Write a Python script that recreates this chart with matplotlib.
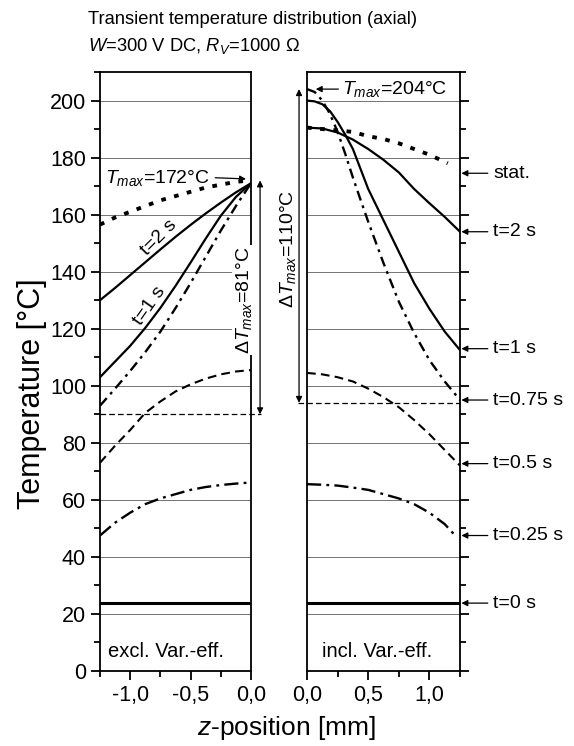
import numpy as np
import matplotlib
matplotlib.use('Agg')
import matplotlib.pyplot as plt
from matplotlib.ticker import MultipleLocator, FixedLocator, FixedFormatter

plt.rcParams['font.family'] = ['Liberation Sans', 'DejaVu Sans']
plt.rcParams['mathtext.fontset'] = 'custom'
plt.rcParams['mathtext.rm'] = 'Liberation Sans'
plt.rcParams['mathtext.it'] = 'Liberation Sans:italic'

# left panel (excl. Var.-eff.), z in mm
z_left = [-1.25, -1.125, -1.0, -0.875, -0.75, -0.625, -0.5, -0.375, -0.25, -0.125, 0.0]
left_stat = [156.5, 159, 161, 163, 165, 166.5, 168, 169.5, 170.5, 171.5, 172]
left_t2 = [130, 134.3, 138.8, 143.3, 147.8, 152.2, 156.4, 160.4, 164.2, 167.8, 171]
left_t1 = [103, 108.5, 114, 120.3, 127.3, 135, 143.2, 151.6, 159.6, 166.2, 171]
left_t075 = [93, 99, 105.2, 111.8, 119, 127.2, 136, 145.2, 154.4, 163, 171]
left_t05 = [73, 79, 84.5, 90.5, 94.5, 98, 100.5, 102.5, 104, 105, 105.5]
z_left_t025 = [-1.25, -1.125, -1.0, -0.875, -0.75, -0.625, -0.5, -0.375, -0.25, -0.125, -0.03]
left_t025 = [47.5, 52, 55.5, 58.5, 60.5, 62, 63.5, 64.5, 65.2, 65.7, 66]
left_t0 = [24] * len(z_left)

# right panel (incl. Var.-eff.)
z_right = [0.0, 0.125, 0.25, 0.375, 0.5, 0.625, 0.75, 0.875, 1.0, 1.125, 1.25]
z_right_fine = [0.0, 0.0625, 0.125, 0.1875, 0.25, 0.3125, 0.375, 0.4375, 0.5, 0.625, 0.75,
                0.875, 1.0, 1.125, 1.25]
z_right_stat = [0.0, 0.125, 0.25, 0.375, 0.5, 0.625, 0.75, 0.875, 1.0, 1.15]
right_stat = [190.5, 190, 189.5, 189, 187.5, 186.5, 185, 183, 181, 178]
right_t2 = [190.5, 190.2, 188.8, 186.3, 183, 179.2, 174.8, 169, 164, 159.2, 154]
right_t1 = [200, 199.7, 198.7, 196.3, 192.5, 188, 183, 176, 169, 158, 147, 136, 127, 119, 112.5]
right_t075 = [204, 203, 200, 195.3, 189, 181.3, 173, 165.2, 157.5, 143, 129.5, 118.5, 109, 101.5, 95]
right_t05 = [104.5, 104, 103, 101.5, 99, 96, 92.5, 88, 83, 77.5, 72]
z_right_t025 = [0.0, 0.125, 0.25, 0.375, 0.5, 0.625, 0.75, 0.875, 1.0, 1.125, 1.2]
right_t025 = [65.5, 65.3, 65, 64.3, 63.5, 62, 60.5, 58.5, 55.5, 51.5, 48]
right_t0 = [24] * len(z_right)

right_labels = ['stat.', 't=2 s', 't=1 s', 't=0.75 s', 't=0.5 s', 't=0.25 s', 't=0 s']
right_label_T = [174.5, 154, 113, 95, 72.7, 47.5, 23.8]

left_ticks = [-1.0, -0.5, 0.0]
left_ticklabels = ['-1,0', '-0,5', '0,0']
right_ticks = [0.0, 0.5, 1.0]
right_ticklabels = ['0,0', '0,5', '1,0']

fig = plt.figure(figsize=(5.74, 7.46), dpi=100)
ax1 = fig.add_axes([100 / 574, 75 / 746, 151 / 574, 599 / 746])
ax2 = fig.add_axes([307 / 574, 75 / 746, 153 / 574, 599 / 746])

st_stat = dict(color='k', lw=2.8, dashes=(1.2, 2.2), dash_capstyle='butt')
st_solid = dict(color='k', lw=1.6)
st_dd = dict(color='k', lw=1.7, dashes=(4.3, 2.2, 1.2, 2.2))
st_dd2 = dict(color='k', lw=1.7, dashes=(6.0, 2.2, 1.2, 2.2))
st_dash = dict(color='k', lw=1.5, dashes=(4.2, 2.5))
st_t0 = dict(color='k', lw=2.2)
st_ref = dict(color='k', lw=0.9, dashes=(4.5, 2.5))

for ax in (ax1, ax2):
    ax.set_ylim(0, 210)
    ax.yaxis.set_major_locator(MultipleLocator(20))
    ax.yaxis.set_minor_locator(MultipleLocator(10))
    ax.grid(axis='y', which='major', color='0.45', lw=0.7)
    ax.set_axisbelow(True)
    for s in ax.spines.values():
        s.set_linewidth(1.3)
    ax.tick_params(which='major', length=6.5, width=1.3, labelsize=15.5, direction='out')
    ax.tick_params(which='minor', length=4.5, width=1.3, direction='out')

ax1.set_xlim(-1.25, 0)
ax1.xaxis.set_major_locator(FixedLocator(left_ticks))
ax1.xaxis.set_major_formatter(FixedFormatter(left_ticklabels))
ax1.xaxis.set_minor_locator(MultipleLocator(0.25))
ax1.tick_params(axis='y', which='both', left=True, right=False)

ax2.set_xlim(0, 1.25)
ax2.xaxis.set_major_locator(FixedLocator(right_ticks))
ax2.xaxis.set_major_formatter(FixedFormatter(right_ticklabels))
ax2.xaxis.set_minor_locator(MultipleLocator(0.25))
ax2.tick_params(axis='y', which='both', left=False, right=True, labelleft=False, labelright=False)

# left curves
ax1.plot(z_left, left_stat, **st_stat)
ax1.plot(z_left, left_t2, **st_solid)
ax1.plot(z_left, left_t1, **st_solid)
ax1.plot(z_left, left_t075, **st_dd)
ax1.plot(z_left, left_t05, **st_dash)
ax1.plot(z_left_t025, left_t025, **st_dd2)
ax1.plot(z_left, left_t0, **st_t0)
ax1.plot([-1.25, 0.08], [90, 90], clip_on=False, **st_ref)

# right curves
ax2.plot(z_right_stat, right_stat, **st_stat)
ax2.plot(z_right, right_t2, **st_solid)
ax2.plot(z_right_fine, right_t1, **st_solid)
ax2.plot(z_right_fine, right_t075, **st_dd)
ax2.plot(z_right, right_t05, **st_dash)
ax2.plot(z_right_t025, right_t025, **st_dd2)
ax2.plot(z_right, right_t0, **st_t0)
ax2.plot([-0.07, 1.25], [94, 94], clip_on=False, **st_ref)

arr = dict(arrowstyle='-|>', color='k', lw=0.9, mutation_scale=9, shrinkA=2, shrinkB=1)

# T max labels
ax1.annotate('$T_{max}$=172°C', xy=(-0.03, 172.5), xytext=(-1.21, 173), ha='left', va='center',
             fontsize=14, arrowprops=dict(relpos=(1, 0.5), **arr))
ax2.annotate('$T_{max}$=204°C', xy=(0.06, 204), xytext=(0.29, 204), ha='left', va='center',
             fontsize=14, bbox=dict(fc='white', ec='none', pad=1),
             arrowprops=dict(relpos=(0, 0.5), **arr))

# delta T arrows
darr = dict(arrowstyle='<|-|>', color='k', lw=0.9, mutation_scale=9, shrinkA=0, shrinkB=0)
ax1.annotate('', xy=(0.075, 172), xytext=(0.075, 90), arrowprops=darr, annotation_clip=False)
ax1.text(-0.06, 130, r'$\Delta T_{max}$=81°C', rotation=90, ha='center', va='center', fontsize=14,
         bbox=dict(fc='white', ec='none', pad=1), zorder=5, clip_on=False)
ax2.annotate('', xy=(-0.065, 204), xytext=(-0.065, 94), arrowprops=darr, annotation_clip=False)
ax2.text(-0.155, 148, r'$\Delta T_{max}$=110°C', rotation=90, ha='center', va='center', fontsize=14,
         clip_on=False)

# curve labels on the left
ax1.text(-0.76, 152, 't=2 s', rotation=45, ha='center', va='center', fontsize=14)
ax1.text(-0.84, 128, 't=1 s', rotation=55, ha='center', va='center', fontsize=14)

# labels on the right with arrows
for lab, T in zip(right_labels, right_label_T):
    ax2.annotate(lab, xy=(1.25, T), xytext=(24, 0), textcoords='offset points', ha='left',
                 va='center', fontsize=14, annotation_clip=False,
                 arrowprops=dict(relpos=(0, 0.5), **arr))

ax1.text(-1.18, 7, 'excl. Var.-eff.', ha='left', va='center', fontsize=14.5)
ax2.text(0.12, 7, 'incl. Var.-eff.', ha='left', va='center', fontsize=14.5)

fig.text(32 / 574, 1 - 394 / 746, 'Temperature [°C]', rotation=90, ha='center', va='center', fontsize=22)
fig.text(287 / 574, 1 - 728 / 746, '$z$-position [mm]', ha='center', va='center', fontsize=19)
fig.text(88 / 574, 1 - 20 / 746, 'Transient temperature distribution (axial)', ha='left', va='center',
         fontsize=13.2)
fig.text(88 / 574, 1 - 46 / 746, '$W$=300 V DC, $R_V$=1000 Ω', ha='left', va='center', fontsize=13.2)

fig.savefig('out.png', dpi=100)
